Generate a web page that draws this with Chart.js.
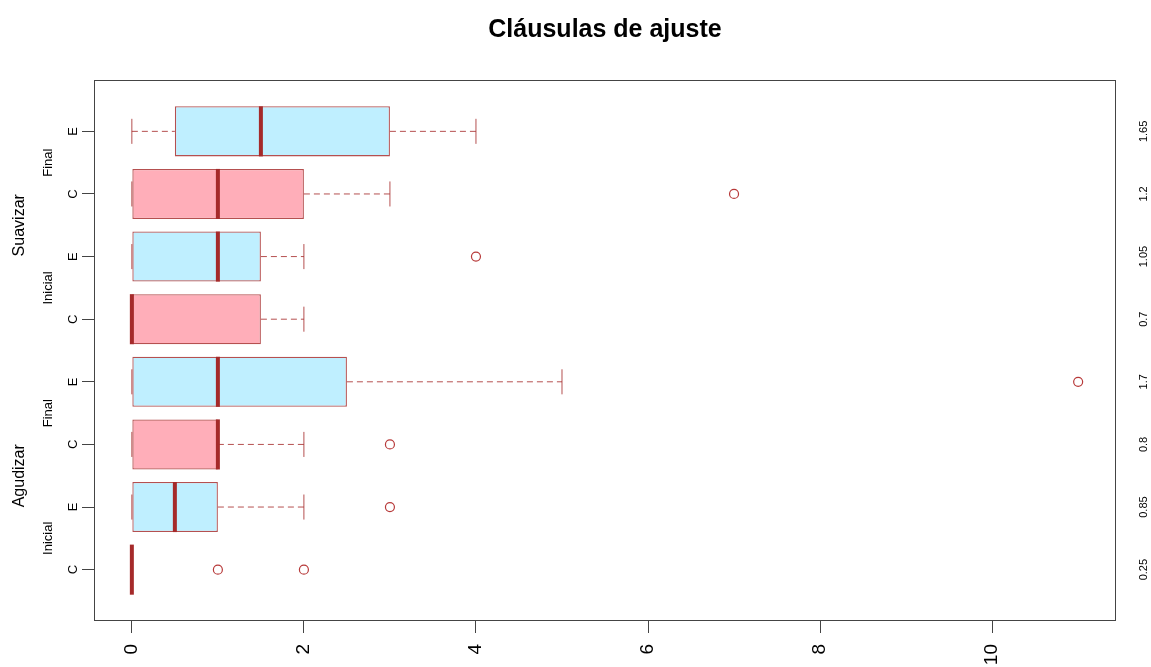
<!DOCTYPE html>
<html>
<head>
<meta charset="utf-8">
<script src="https://cdn.jsdelivr.net/npm/chart.js@4"></script>
<style>
  html, body { margin: 0; padding: 0; background: #fff; }
  #wrap { width: 1151px; height: 667px; }
</style>
</head>
<body>
<div id="wrap"><canvas id="boxChart" width="1151" height="667"></canvas></div>
<script>
// Dados (de baixo para cima)
const rowLabels = ['C', 'E', 'C', 'E', 'C', 'E', 'C', 'E'];
const rightLabels = ['0.25', '0.85', '0.8', '1.7', '0.7', '1.05', '1.2', '1.65'];
const q1 = [0, 0, 0, 0, 0, 0, 0, 0.5];
const medians = [0, 0.5, 1, 1, 0, 1, 1, 1.5];
const q3 = [0, 1, 1, 2.5, 1.5, 1.5, 2, 3];
const whiskerLo = [0, 0, 0, 0, 0, 0, 0, 0];
const whiskerHi = [0, 2, 2, 5, 2, 2, 3, 4];
const outliers = [[1, 2], [3], [3], [11], [], [4], [7], []];
const phaseLabels = ['Inicial', 'Final', 'Inicial', 'Final'];
const actionLabels = ['Agudizar', 'Suavizar'];
const xTicks = [0, 2, 4, 6, 8, 10];
const chartTitle = 'Cláusulas de ajuste';

const fillColors = ['#FFAEB9', '#BFEFFF'];
const lineColor = 'rgba(165, 42, 42, 0.82)';
const medianColor = '#A52A2A';

Chart.defaults.font.family = "'Liberation Sans', Arial, sans-serif";
Chart.defaults.color = '#000';

const boxData = rowLabels.map((_, i) => ({ x: [q1[i], q3[i]], y: i + 1 }));
const outlierData = [];
outliers.forEach((vals, i) => vals.forEach(v => outlierData.push({ x: v, y: i + 1 })));

// partes do boxplot que o Chart.js nao tem
const boxParts = {
  id: 'boxParts',
  beforeDatasetsDraw(chart) {
    const ctx = chart.ctx;
    const xs = chart.scales.x, ys = chart.scales.y;
    const bars = chart.getDatasetMeta(0).data;
    ctx.save();
    ctx.strokeStyle = lineColor;
    ctx.lineWidth = 1;
    rowLabels.forEach((_, i) => {
      const y = ys.getPixelForValue(i + 1);
      const half = bars[i].height / 2;
      const staple = half / 2;
      const lo = xs.getPixelForValue(whiskerLo[i]);
      const hi = xs.getPixelForValue(whiskerHi[i]);
      const b1 = xs.getPixelForValue(q1[i]);
      const b3 = xs.getPixelForValue(q3[i]);
      ctx.setLineDash([6, 4]);
      ctx.beginPath();
      ctx.moveTo(b3, y); ctx.lineTo(hi, y);
      ctx.moveTo(lo, y); ctx.lineTo(b1, y);
      ctx.stroke();
      ctx.setLineDash([]);
      ctx.beginPath();
      ctx.moveTo(hi, y - staple); ctx.lineTo(hi, y + staple);
      ctx.moveTo(lo, y - staple); ctx.lineTo(lo, y + staple);
      ctx.stroke();
    });
    ctx.restore();
  },
  afterDatasetsDraw(chart) {
    const ctx = chart.ctx;
    const xs = chart.scales.x, ys = chart.scales.y;
    const bars = chart.getDatasetMeta(0).data;
    ctx.save();
    ctx.strokeStyle = medianColor;
    ctx.lineWidth = 4;
    rowLabels.forEach((_, i) => {
      const y = ys.getPixelForValue(i + 1);
      const half = bars[i].height / 2;
      const m = xs.getPixelForValue(medians[i]);
      ctx.beginPath();
      ctx.moveTo(m, y - half); ctx.lineTo(m, y + half);
      ctx.stroke();
    });
    ctx.restore();
  },
  afterDraw(chart) {
    const ctx = chart.ctx;
    const a = chart.chartArea;
    const ys = chart.scales.y;
    ctx.save();
    // moldura
    ctx.strokeStyle = '#444';
    ctx.lineWidth = 1;
    ctx.strokeRect(a.left + 0.5, a.top + 0.5, a.right - a.left - 1, a.bottom - a.top - 1);
    // titulo
    ctx.fillStyle = '#000';
    ctx.font = "bold 25px 'Liberation Sans', Arial, sans-serif";
    ctx.textAlign = 'center';
    ctx.textBaseline = 'middle';
    ctx.fillText(chartTitle, (a.left + a.right) / 2, 30);
    // rotulos de grupo
    ctx.font = "13px 'Liberation Sans', Arial, sans-serif";
    phaseLabels.forEach((t, k) => {
      const y = ys.getPixelForValue(k * 2 + 1.5);
      ctx.save();
      ctx.translate(48, y);
      ctx.rotate(-Math.PI / 2);
      ctx.fillText(t, 0, 0);
      ctx.restore();
    });
    ctx.font = "16px 'Liberation Sans', Arial, sans-serif";
    actionLabels.forEach((t, k) => {
      const y = ys.getPixelForValue(k * 4 + 2.5);
      ctx.save();
      ctx.translate(20, y);
      ctx.rotate(-Math.PI / 2);
      ctx.fillText(t, 0, 0);
      ctx.restore();
    });
    ctx.restore();
  }
};

const rowTicks = s => { s.ticks = rowLabels.map((_, i) => ({ value: i + 1 })); };

new Chart(document.getElementById('boxChart'), {
  type: 'bar',
  data: {
    datasets: [
      {
        type: 'bar',
        indexAxis: 'y',
        data: boxData,
        backgroundColor: rowLabels.map((_, i) => fillColors[i % 2]),
        borderColor: lineColor,
        borderWidth: 1.3,
        borderSkipped: false,
        barPercentage: 0.8,
        categoryPercentage: 1,
        yAxisID: 'y'
      },
      {
        type: 'scatter',
        data: outlierData,
        pointStyle: 'circle',
        pointRadius: 4.5,
        pointBorderWidth: 1.2,
        pointBackgroundColor: 'rgba(0,0,0,0)',
        pointBorderColor: 'rgba(175, 35, 35, 0.9)',
        yAxisID: 'y'
      }
    ]
  },
  options: {
    responsive: false,
    animation: false,
    layout: { padding: { top: 80, left: 0, right: 0, bottom: 0 } },
    plugins: {
      legend: { display: false },
      title: { display: false },
      tooltip: { enabled: false }
    },
    scales: {
      x: {
        type: 'linear',
        position: 'bottom',
        offset: false,
        min: -0.44,
        max: 11.44,
        afterBuildTicks: s => { s.ticks = xTicks.map(v => ({ value: v })); },
        afterFit: s => { s.height = 46; },
        border: { display: false },
        grid: { offset: false, drawOnChartArea: false, drawTicks: true, tickLength: 12, color: '#444' },
        ticks: {
          minRotation: 90,
          maxRotation: 90,
          autoSkip: false,
          padding: 11,
          font: { size: 19 },
          callback: v => String(v)
        }
      },
      y: {
        type: 'linear',
        position: 'left',
        offset: false,
        min: 0.18,
        max: 8.82,
        afterBuildTicks: rowTicks,
        afterFit: s => { s.width = 94; },
        border: { display: false },
        grid: { offset: false, drawOnChartArea: false, drawTicks: true, tickLength: 12, color: '#444' },
        ticks: {
          minRotation: 90,
          maxRotation: 90,
          autoSkip: false,
          crossAlign: 'center',
          padding: 4,
          font: { size: 13 },
          callback: (v, i) => rowLabels[i]
        }
      },
      y2: {
        type: 'linear',
        position: 'right',
        offset: false,
        min: 0.18,
        max: 8.82,
        afterBuildTicks: rowTicks,
        afterFit: s => { s.width = 35; },
        border: { display: false },
        grid: { display: false, drawTicks: false, offset: false },
        ticks: {
          minRotation: 90,
          maxRotation: 90,
          autoSkip: false,
          crossAlign: 'center',
          padding: 17,
          font: { size: 11 },
          callback: (v, i) => rightLabels[i]
        }
      }
    }
  },
  plugins: [boxParts]
});
</script>
</body>
</html>
